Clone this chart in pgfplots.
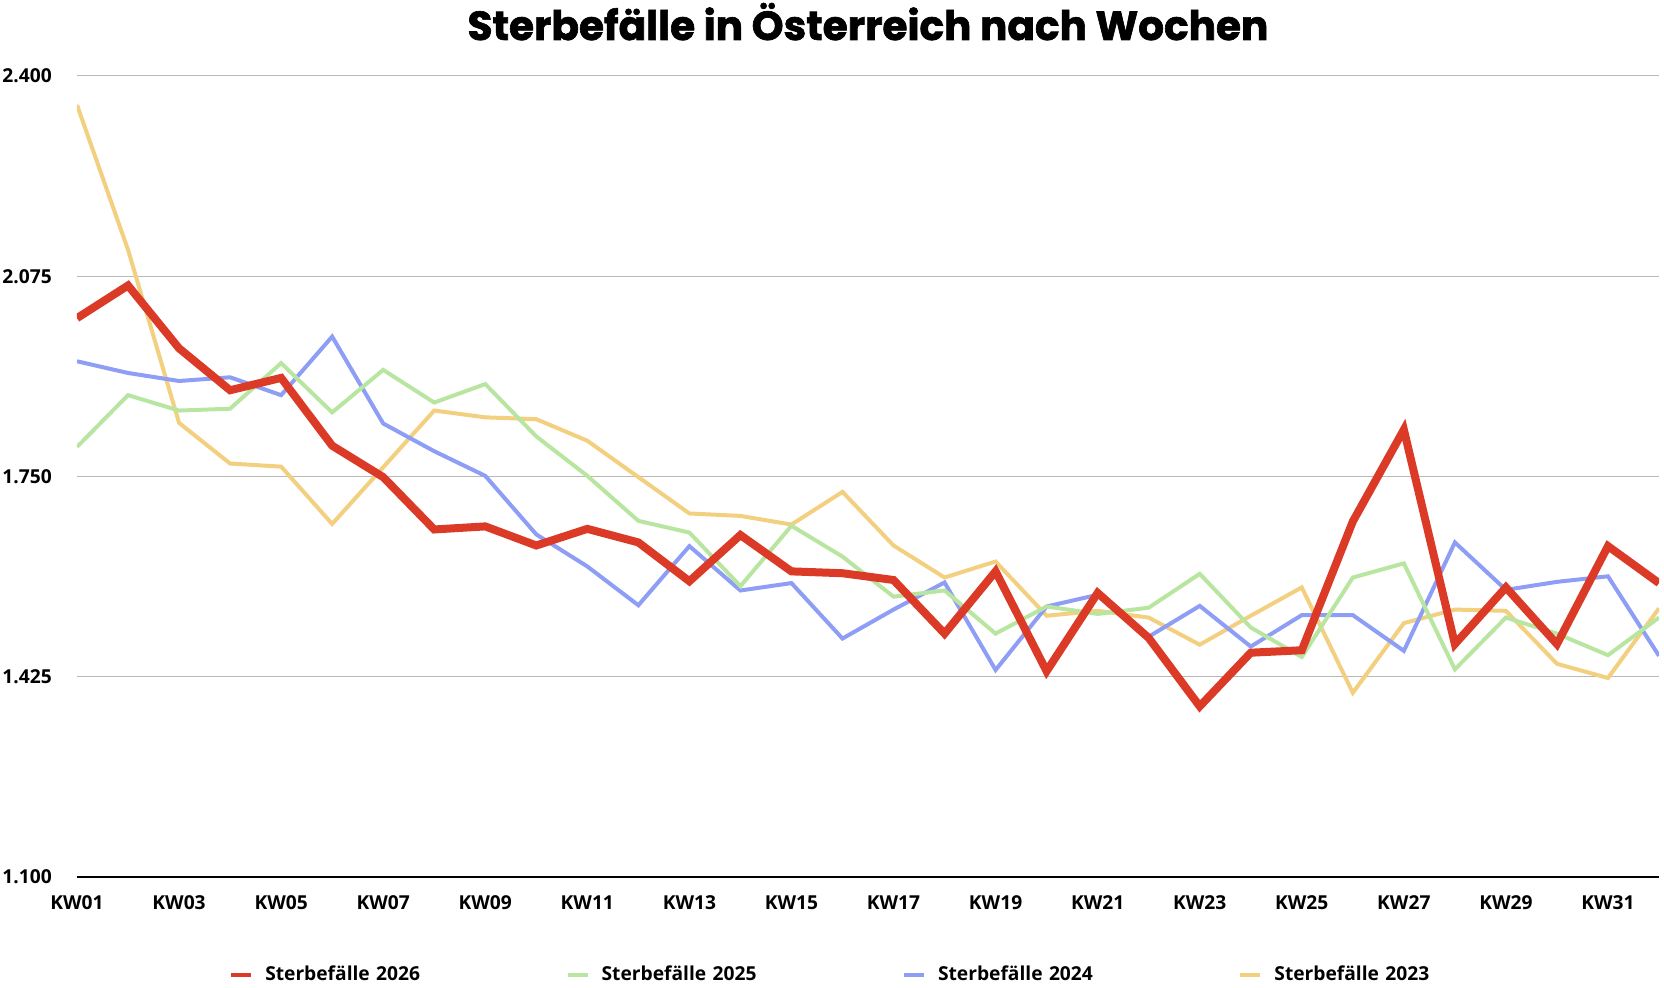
\documentclass[border=0pt]{standalone}
\usepackage{fontspec}
\setmainfont{Open Sans}
\newfontfamily\titlefont{Poppins}[BoldFeatures={FakeBold=1.6}]
\usepackage{pgfplots}
\pgfplotsset{compat=1.18}
\usepackage{pgfplotstable}

\definecolor{cred}{RGB}{219,58,38}
\definecolor{cgreen}{RGB}{184,230,160}
\definecolor{cblue}{RGB}{142,158,245}
\definecolor{cyellow}{RGB}{243,208,128}

\pgfplotstableread{
kw r26 g25 b24 y23
1 2007 1798 1937 2353
2 2060 1882 1918 2118
3 1958 1857 1905 1837
4 1890 1860 1911 1771
5 1910 1934 1882 1766
6 1800 1854 1977 1673
7 1749 1923 1836 1765
8 1664 1870 1791 1857
9 1669 1900 1751 1846
10 1638 1815 1656 1843
11 1665 1751 1604 1808
12 1643 1678 1541 1749
13 1580 1659 1637 1690
14 1655 1572 1565 1686
15 1596 1670 1577 1672
16 1593 1620 1487 1725
17 1582 1555 1534 1638
18 1495 1565 1578 1586
19 1596 1495 1436 1612
20 1434 1539 1539 1524
21 1561 1527 1558 1532
22 1488 1537 1490 1521
23 1377 1592 1540 1477
24 1464 1505 1474 1524
25 1468 1457 1525 1570
26 1677 1586 1525 1399
27 1826 1609 1467 1512
28 1478 1437 1643 1534
29 1570 1521 1566 1532
30 1478 1495 1579 1446
31 1637 1460 1588 1423
32 1577 1521 1459 1536
}\data

\begin{document}
\begin{tikzpicture}
\begin{axis}[
  scale only axis, width=791pt, height=400.5pt,
  xmin=1, xmax=32, ymin=1100, ymax=2400,
  axis x line*=bottom, axis y line*=left,
  y axis line style={draw=none},
  x axis line style={black, line width=1.3pt, -},
  xtick={1,3,...,31},
  xticklabels={KW01,KW03,KW05,KW07,KW09,KW11,KW13,KW15,KW17,KW19,KW21,KW23,KW25,KW27,KW29,KW31},
  ytick={1100,1425,1750,2075,2400},
  yticklabels={1.100,1.425,1.750,2.075,2.400},
  major tick length=0pt,
  ymajorgrids, grid style={black!28, line width=0.5pt},
  tick label style={font=\fontsize{9.6}{11}\selectfont\bfseries},
  xticklabel style={anchor=center, yshift=-13pt},
  yticklabel style={anchor=west, inner xsep=0pt, xshift=-37.5pt},
  title={\titlefont\bfseries\fontsize{20.3}{22}\selectfont Sterbefälle in Österreich nach Wochen},
  title style={at={(0.5,1)}, anchor=base, yshift=12pt, inner sep=0pt},
  legend columns=4,
  legend cell align=left,
  legend style={at={(axis description cs:0.0960,-0.1223)}, anchor=west, draw=none, fill=none, inner sep=0pt, column sep=6pt,
    nodes={inner xsep=0pt, inner ysep=0pt, anchor=west, text width=144.2pt, align=left, font=\fontsize{9.6}{11}\selectfont\bfseries}},
  legend image code/.code={\draw[#1, line width=2pt] (0pt,0pt) -- (10pt,0pt);},
]
\addplot[cyellow, line width=2pt, forget plot] table[x=kw, y=y23] {\data};
\addplot[cblue, line width=2pt, forget plot] table[x=kw, y=b24] {\data};
\addplot[cgreen, line width=2pt, forget plot] table[x=kw, y=g25] {\data};
\addplot[cred, line width=4pt, forget plot] table[x=kw, y=r26] {\data};
\addlegendimage{cred}\addlegendentry{Sterbefälle 2026}
\addlegendimage{cgreen}\addlegendentry{Sterbefälle 2025}
\addlegendimage{cblue}\addlegendentry{Sterbefälle 2024}
\addlegendimage{cyellow}\addlegendentry{Sterbefälle 2023}
\end{axis}
\pgfresetboundingbox
\path (-38.5pt,-55.5pt) rectangle (793.5pt,438.5pt);
\end{tikzpicture}
\end{document}
